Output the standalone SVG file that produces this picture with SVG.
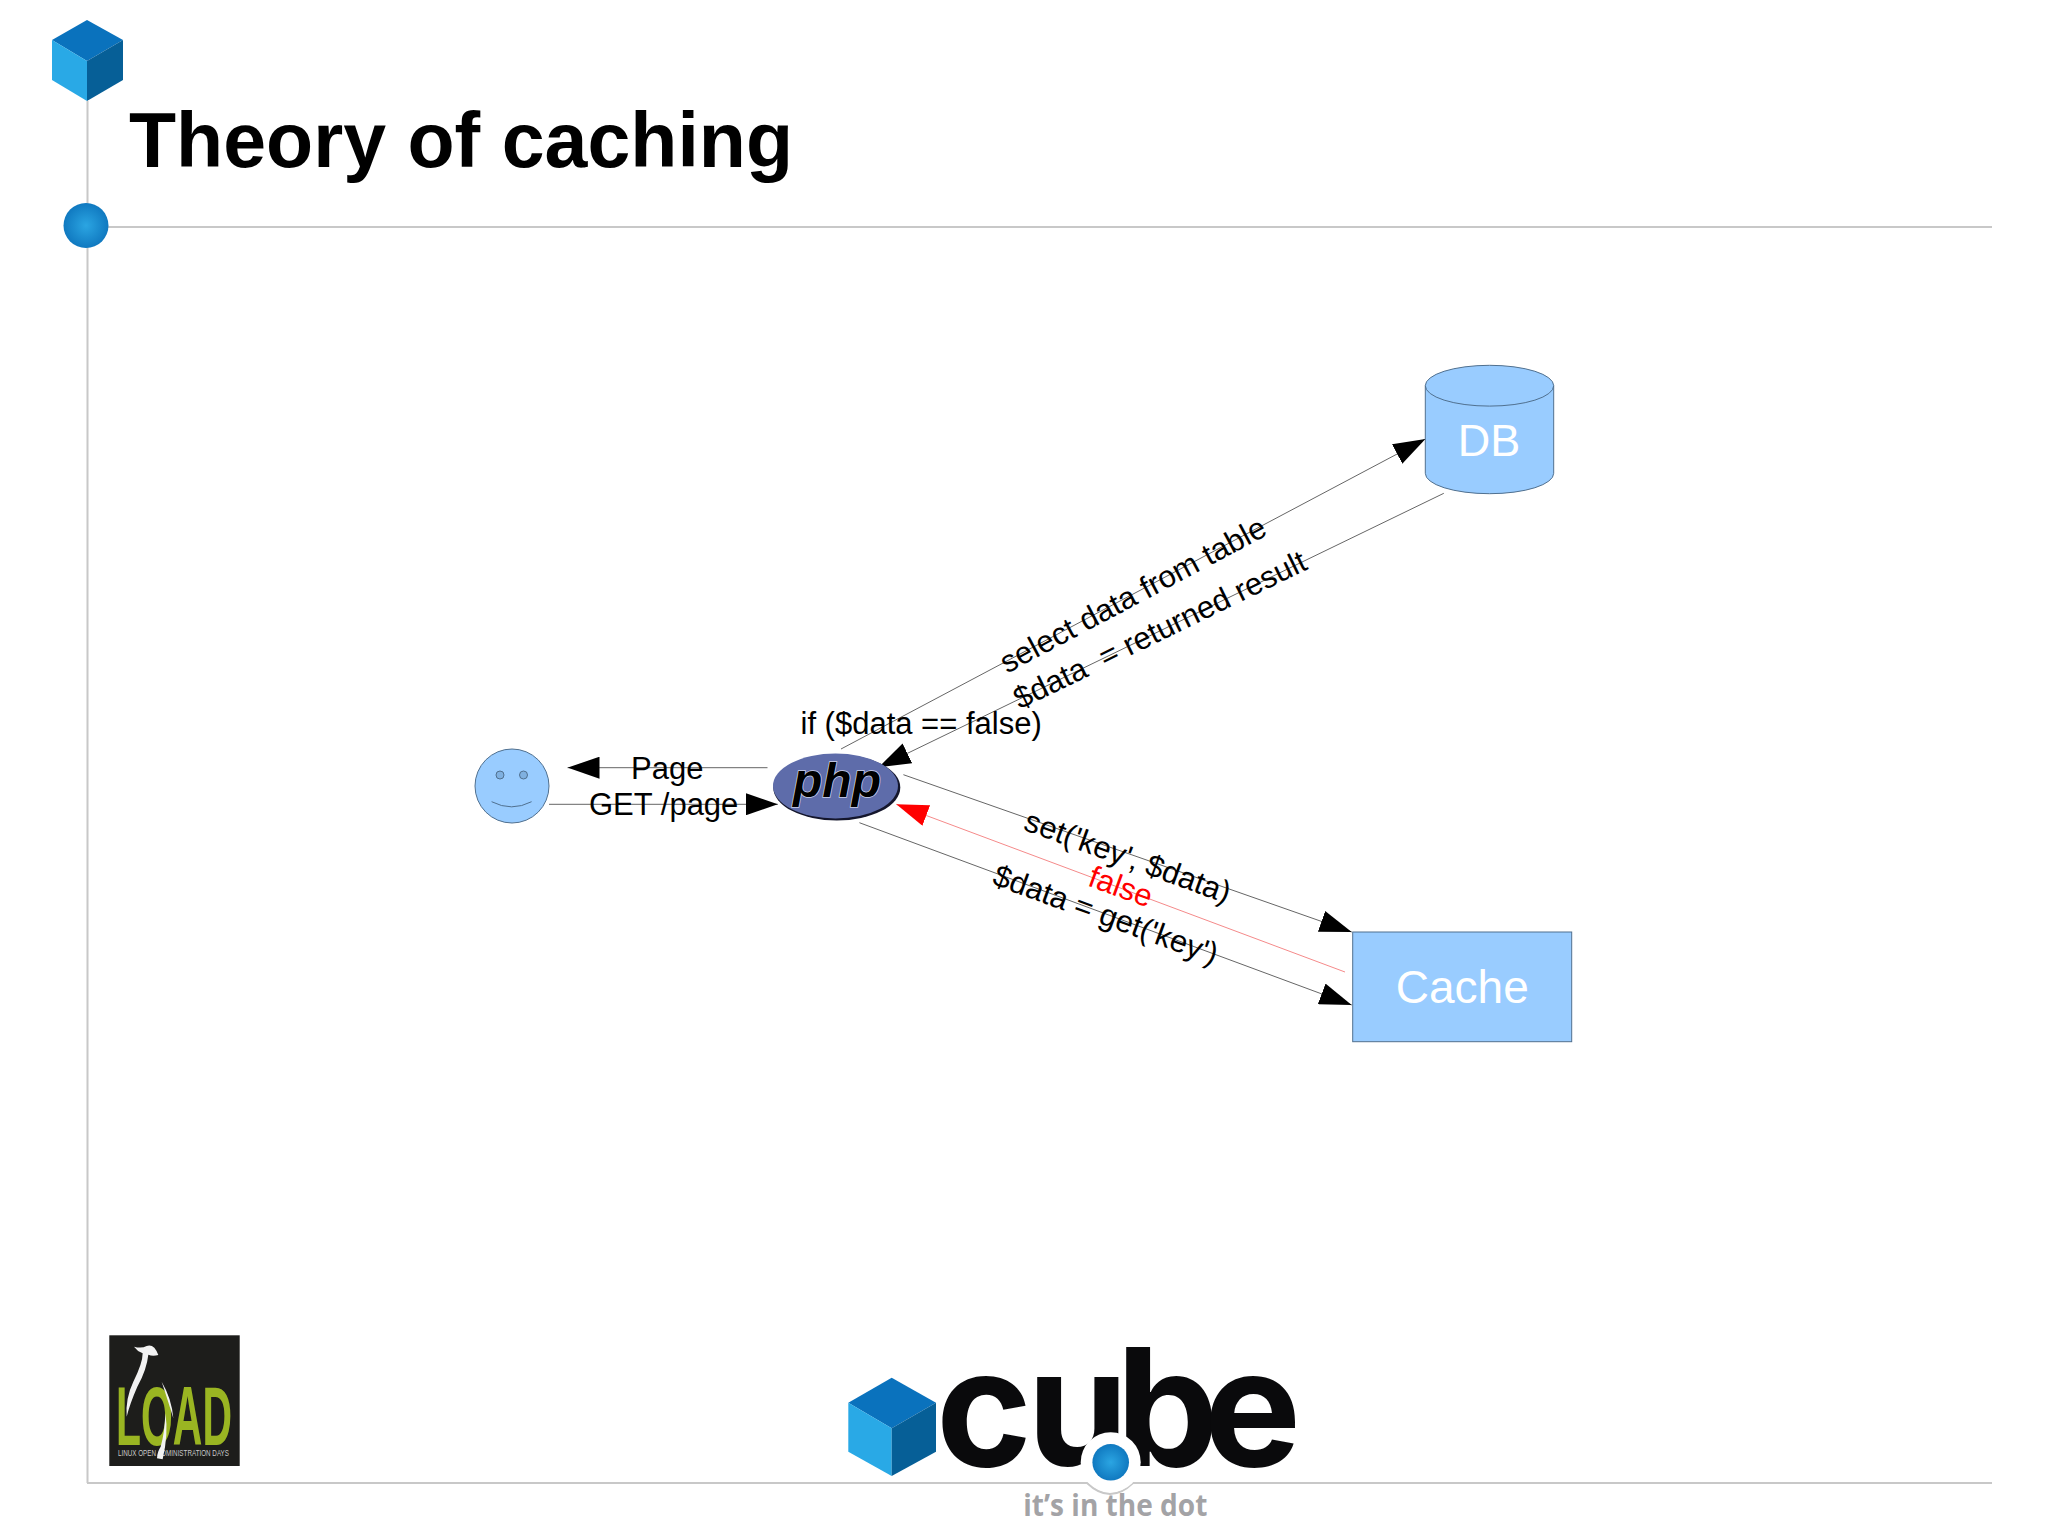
<svg xmlns="http://www.w3.org/2000/svg" width="2048" height="1535" viewBox="0 0 2048 1535">
<style>
text{font-family:"Liberation Sans",Arial,sans-serif}
.l{font-size:31px;fill:#000;text-anchor:middle}
.w{fill:#fff;text-anchor:middle}
.c{stroke:#666;stroke-width:1;fill:none;marker-end:url(#ah)}
.r{stroke:#f58a8a;stroke-width:1;fill:none;marker-end:url(#ar)}
.s{fill:#99ccff;stroke:#50708f;stroke-width:1}
.f{stroke:#c8c8c8;stroke-width:2;fill:none}
</style>
<defs>
<marker id="ah" markerUnits="userSpaceOnUse" markerWidth="32" markerHeight="22" refX="32" refY="11" orient="auto"><path d="M0 0L32 11L0 22Z" fill="#000"/></marker>
<marker id="ar" markerUnits="userSpaceOnUse" markerWidth="32" markerHeight="22" refX="32" refY="11" orient="auto"><path d="M0 0L32 11L0 22Z" fill="#f00"/></marker>
<radialGradient id="dot"><stop offset="0" stop-color="#2ba5e2"/><stop offset="1" stop-color="#1079c0"/></radialGradient>
</defs>
<rect width="2048" height="1535" fill="#fff"/>
<g id="frame">
<path class="f" d="M87.500 101V1483"/>
<path class="f" d="M87 227H1992"/>
<path class="f" d="M87 1483H1087Q1110 1505 1133 1483H1992"/>
</g>
<g id="top-cube">
<path d="M87 20L123 40L87 61L52 40Z" fill="#0a72bd"/>
<path d="M52 40L87 61V101L52 80Z" fill="#29a9e6"/>
<path d="M123 40L87 61V101L123 80Z" fill="#065f97"/>
<circle cx="86" cy="225.500" r="22.500" fill="url(#dot)"/>
</g>
<g id="title"><text x="129" y="167" font-size="77" font-weight="700" fill="#000" textLength="664" lengthAdjust="spacingAndGlyphs">Theory of caching</text></g>
<g id="connectors">
<path class="c" d="M767.500 767.700H567.500"/>
<path class="c" d="M549 804.300H777.800"/>
<path class="c" d="M841 749L1425.400 439"/>
<path class="c" d="M1443.800 493.300L878.600 767.300"/>
<path class="c" d="M903.400 774.700L1351.700 932"/>
<path class="r" d="M1345 972L896.300 804.300"/>
<path class="c" d="M859.400 822.700L1351.700 1005"/>
</g>
<g id="user">
<circle cx="512" cy="786" r="37" class="s"/>
<circle cx="500" cy="775" r="4" class="s" style="fill:#7fb0e0"/>
<circle cx="523.500" cy="775" r="4" class="s" style="fill:#7fb0e0"/>
<path d="M491.600 801.700Q511.600 812 531.600 801.700" fill="none" stroke="#50708f"/>
</g>
<g id="php">
<ellipse cx="836.800" cy="787.500" rx="63.500" ry="33" fill="#14162c"/>
<ellipse cx="835.500" cy="786" rx="62.500" ry="32.500" fill="#5e6caa"/>
<text x="793" y="797" font-size="48" font-weight="700" font-style="italic" fill="#000" stroke="#cdd3ea" stroke-width="1.500" paint-order="stroke" textLength="88" lengthAdjust="spacingAndGlyphs">php</text>
</g>
<g id="db">
<path class="s" d="M1425.300 385.700V473.300A64.200 20.400 0 0 0 1553.700 473.300V385.700A64.200 20.400 0 0 0 1425.300 385.700Z"/>
<path class="s" d="M1425.300 385.700A64.200 20.400 0 0 0 1553.700 385.700" style="fill:none"/>
<text class="w" x="1489" y="456" font-size="45">DB</text>
</g>
<g id="cache">
<rect class="s" x="1352.700" y="932" width="219" height="109.700"/>
<text class="w" x="1462.300" y="1003" font-size="46">Cache</text>
</g>
<g id="labels">
<text class="l" x="631" y="779" style="text-anchor:start">Page</text>
<text class="l" x="589" y="815" style="text-anchor:start">GET /page</text>
<text class="l" x="800.500" y="734" style="text-anchor:start">if ($data == false)</text>
<text class="l" transform="translate(1134 597) rotate(-28)" y="8">select data from table</text>
<text class="l" transform="translate(1161 632) rotate(-26)" y="8" xml:space="preserve">$data  = returned result</text>
<text class="l" transform="translate(1127 859) rotate(20)" y="8">set('key', $data)</text>
<text class="l" transform="translate(1120 889) rotate(20)" y="8" style="fill:#f00">false</text>
<text class="l" transform="translate(1105 917) rotate(20)" y="8">$data = get('key')</text>
</g>
<g id="load-logo">
<rect x="109.300" y="1335.300" width="130.400" height="130.700" fill="#1d1d1b"/>
<text x="116" y="1445" font-size="83" font-weight="700" fill="#9ab522" textLength="116" lengthAdjust="spacingAndGlyphs">LOAD</text>
<text x="118" y="1456" font-size="9.500" fill="#c9c9c9" textLength="111" lengthAdjust="spacingAndGlyphs">LINUX OPEN ADMINISTRATION DAYS</text>
<g transform="translate(80 1320) scale(.3333)" fill="#f2f2f2">
<path d="M162 80Q185 86 200 78Q222 70 235 105Q218 110 205 104Q200 150 172 200Q150 250 140 290Q136 235 160 185Q188 130 188 100Q172 94 162 80Z"/>
<path d="M245 185Q275 235 280 295Q265 245 245 185Z"/>
<path d="M256 280Q266 340 248 418L231 415Q232 395 242 380Q254 340 256 280Z"/>
</g>
</g>
<g id="cube-logo">
<path d="M891.700 1377.700L936 1402.700L891.700 1428.300L848.300 1402.700Z" fill="#0a72bd"/>
<path d="M848.300 1402.700L891.700 1428.300V1476L848.300 1451.700Z" fill="#29a9e6"/>
<path d="M936 1402.700L891.700 1428.300V1476L936 1451.700Z" fill="#065f97"/>
<text y="1466" x="936 1027 1116 1204" font-size="163" font-weight="700" fill="#0a0a0c" style="font-family:Inter,'Liberation Sans',sans-serif">cube</text>
<circle cx="1110.700" cy="1462.300" r="30" fill="#fff"/>
<circle cx="1110.700" cy="1462.300" r="18.300" fill="url(#dot)"/>
<text x="1023.300" y="1516" font-size="31" font-weight="700" fill="#a3a3a6" textLength="184" lengthAdjust="spacingAndGlyphs" style="font-family:'Open Sans','Liberation Sans',sans-serif">it’s in the dot</text>
</g>
</svg>
